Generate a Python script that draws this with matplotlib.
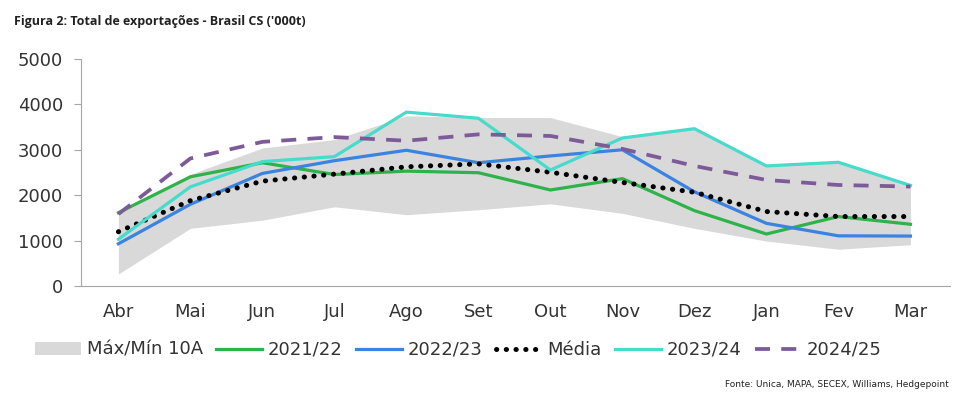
import matplotlib.pyplot as plt
import numpy as np

meses = ['Abr', 'Mai', 'Jun', 'Jul', 'Ago', 'Set', 'Out', 'Nov', 'Dez', 'Jan', 'Fev', 'Mar']

# faixa max/min 10 anos
band_max = [1600, 2460, 3040, 3225, 3750, 3710, 3710, 3290, 3460, 2650, 2730, 2220]
band_min = [265, 1270, 1450, 1745, 1570, 1680, 1810, 1600, 1270, 990, 810, 910]

s2122 = [1615, 2405, 2715, 2455, 2530, 2495, 2115, 2365, 1660, 1145, 1530, 1360]
s2223 = [930, 1800, 2480, 2760, 2990, 2715, 2865, 3000, 2075, 1380, 1105, 1100]
media = [1195, 1880, 2310, 2465, 2625, 2690, 2505, 2280, 2065, 1640, 1530, 1530]
s2324 = [1030, 2185, 2740, 2850, 3830, 3695, 2555, 3260, 3465, 2645, 2725, 2215]
s2425 = [1585, 2810, 3175, 3280, 3200, 3340, 3305, 3020, 2645, 2335, 2225, 2190]

x = np.arange(len(meses))

fig = plt.figure(figsize=(9.55, 4), dpi=100)
ax = fig.add_axes([0.0848, 0.285, 0.91, 0.5675])

ax.fill_between(x, band_min, band_max, color='#d9d9d9', lw=0, label='Máx/Mín 10A')
ax.plot(x, s2122, color='#2db34a', lw=2.3, label='2021/22')
ax.plot(x, s2223, color='#3b83e0', lw=2.3, label='2022/23')
ax.plot(x, media, color='black', lw=3.6, linestyle=(0, (0.05, 1.9)),
        dash_capstyle='round', label='Média')
ax.plot(x, s2324, color='#47dbcc', lw=2.3, label='2023/24')
ax.plot(x, s2425, color='#7d5a98', lw=2.7, linestyle=(0, (4, 3)), label='2024/25')

ax.set_xlim(-0.52, 11.55)
ax.set_ylim(0, 5000)
ax.set_yticks([0, 1000, 2000, 3000, 4000, 5000])
ax.set_xticks(x)
ax.set_xticklabels(meses)
for s in ['top', 'right']:
    ax.spines[s].set_visible(False)
for s in ['left', 'bottom']:
    ax.spines[s].set_color('#a6a6a6')
ax.tick_params(axis='y', length=5, color='#a6a6a6', labelsize=13, labelcolor='#333333', pad=8)
ax.tick_params(axis='x', length=0, labelsize=13, labelcolor='#333333', pad=12)

fig.text(0.0147, 0.945, "Figura 2: Total de exportações - Brasil CS ('000t)",
         fontsize=9, fontweight='bold', family='Open Sans', color='#222222', va='center')

fig.legend(loc='center', bbox_to_anchor=(0.48, 0.125), ncol=6, frameon=False,
           fontsize=13, handlelength=2.55, handletextpad=0.3, columnspacing=0.75,
           labelcolor='#333333')

fig.text(0.993, 0.038, 'Fonte: Unica, MAPA, SECEX, Williams, Hedgepoint',
         fontsize=6.5, ha='right', va='center', color='#222222')

fig.savefig('out.png', dpi=100)
